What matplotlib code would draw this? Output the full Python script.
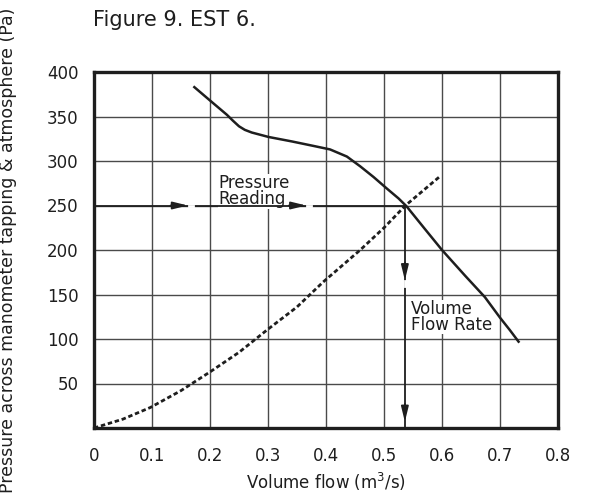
import numpy as np
import matplotlib
matplotlib.use("Agg")
import matplotlib.pyplot as plt

# fan curve (solid) and system curve (dashed)
fan_q = [0.173, 0.200, 0.229, 0.240, 0.250, 0.260, 0.272, 0.301, 0.341, 0.378, 0.407, 0.436,
         0.459, 0.482, 0.505, 0.525, 0.539, 0.570, 0.600, 0.640, 0.674, 0.700, 0.717, 0.732]
fan_p = [383, 368, 352, 345, 339, 335, 332, 327, 322, 317, 313, 305,
         294, 282, 269, 258, 249, 224, 200, 171, 147, 124, 110, 97]

sys_q = [0.0, 0.05, 0.097, 0.15, 0.2, 0.25, 0.298, 0.35, 0.395, 0.459, 0.5, 0.537, 0.597]
sys_p = [0, 10, 23, 42, 63, 85, 110, 136, 164, 200, 225, 250, 283]

x_ticks = [0, 0.1, 0.2, 0.3, 0.4, 0.5, 0.6, 0.7, 0.8]
x_labels = ["0", "0.1", "0.2", "0.3", "0.4", "0.5", "0.6", "0.7", "0.8"]
y_ticks = [50, 100, 150, 200, 250, 300, 350, 400]

# operating point and arrow tips
op_q, op_p = 0.536, 250
h_tips = [0.162, 0.366]
v_tips = [166, 7]

plt.rcParams['font.family'] = ['DejaVu Sans']
ink = '#1e1e1e'

fig = plt.figure(figsize=(5.89, 4.95), dpi=100)
ax = fig.add_axes([94/589, 1 - 428/495, 464/589, 356/495])

ax.set_xlim(0, 0.8)
ax.set_ylim(0, 400)
ax.set_xticks(x_ticks)
ax.set_xticklabels(x_labels)
ax.set_yticks(y_ticks)
ax.tick_params(length=0, labelsize=12, colors=ink)
ax.tick_params(axis='y', pad=11)
ax.tick_params(axis='x', pad=14)
ax.grid(True, color='#4a4a4a', lw=1.0)
ax.set_axisbelow(True)
for s in ax.spines.values():
    s.set_linewidth(2.4)
    s.set_color(ink)

ax.plot(sys_q, sys_p, color=ink, lw=2.0, linestyle=(0, (1.6, 1.0)), zorder=3)
ax.plot(fan_q, fan_p, color=ink, lw=1.8, zorder=3, solid_joinstyle='round')

# horizontal arrow line: pressure reading
ax.plot([0, op_q], [op_p, op_p], color=ink, lw=1.3, zorder=4)
for t in h_tips:
    ax.annotate('', xy=(t, op_p), xytext=(t - 0.03, op_p),
                arrowprops=dict(arrowstyle='-|>,head_length=0.9,head_width=0.22',
                                color=ink, lw=1.3, shrinkA=0, shrinkB=0), zorder=5)
    ax.plot([t + 0.001, t + 0.008], [op_p, op_p], color='white', lw=2.0, zorder=5)

# vertical arrow line: volume flow rate
ax.plot([op_q, op_q], [op_p, 0], color=ink, lw=1.3, zorder=4)
for t in v_tips:
    ax.annotate('', xy=(op_q, t), xytext=(op_q, t + 20),
                arrowprops=dict(arrowstyle='-|>,head_length=0.9,head_width=0.22',
                                color=ink, lw=1.3, shrinkA=0, shrinkB=0), zorder=5)
ax.plot([op_q, op_q], [v_tips[0] - 1, v_tips[0] - 7], color='white', lw=2.0, zorder=5)

ax.text(0.214, 285, "Pressure\nReading", fontsize=12, color=ink,
        ha='left', va='top', linespacing=0.85, zorder=2.5,
        bbox=dict(facecolor='white', edgecolor='none', pad=0.3))
ax.text(0.546, 144, "Volume\nFlow Rate", fontsize=12, color=ink,
        ha='left', va='top', linespacing=0.85, zorder=2.5,
        bbox=dict(facecolor='white', edgecolor='none', pad=0.3))

ax.set_xlabel("Volume flow (m$^3$/s)", fontsize=12, color=ink)
ax.xaxis.set_label_coords(0.5, -0.12)
ax.set_ylabel("Pressure across manometer tapping & atmosphere (Pa)", fontsize=12.5, color=ink)
ax.yaxis.set_label_coords(-0.165, 0.5)

fig.text(93/589, 1 - 20/495, "Figure 9. EST 6.", fontsize=15, color=ink,
         ha='left', va='center')

fig.savefig("out.png", dpi=100)
